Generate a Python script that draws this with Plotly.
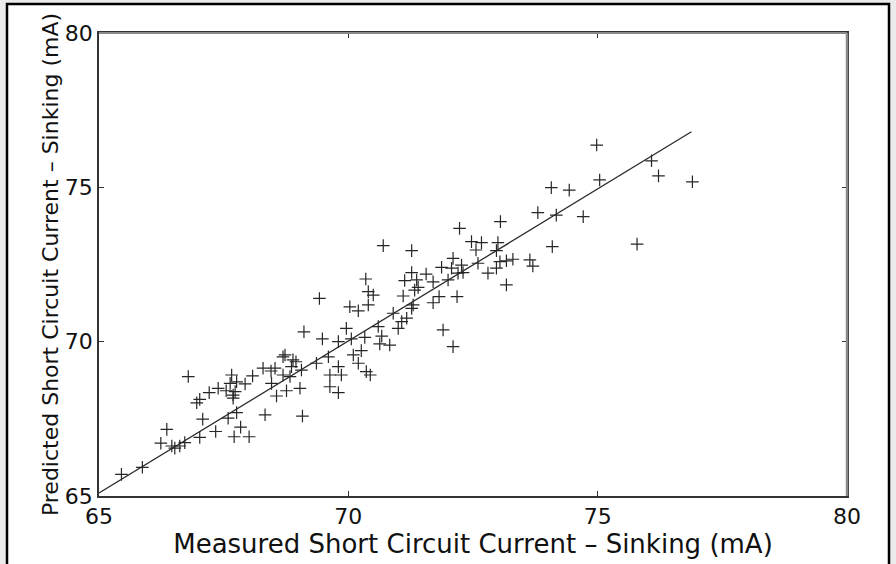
import plotly.graph_objects as go

measured = [
    74.98, 76.08, 75.04, 76.22, 76.90, 74.43, 74.71, 75.79, 73.80, 74.17,
    74.09, 73.05, 72.23, 72.47, 72.67, 73.00, 72.56, 72.97, 71.27, 73.04,
    73.17, 73.30, 73.64, 73.70, 72.97, 72.80, 73.17, 72.10, 71.87, 72.07,
    72.27, 72.30, 72.20, 72.60, 71.27, 71.56, 71.13, 71.37, 71.40, 71.70,
    72.00, 71.10, 71.33, 71.82, 71.70, 71.30, 71.27, 72.18, 71.17, 71.07,
    71.90, 72.10, 74.07, 70.70,
    70.35, 70.40, 70.50, 69.42, 70.40, 70.03, 70.20, 70.90, 71.00, 70.60,
    69.96, 69.11, 69.48, 69.80, 70.06, 70.33, 70.67, 70.63, 70.83, 70.26,
    70.10, 70.20, 70.36, 70.44, 69.60, 69.36, 69.80, 69.63, 69.86, 69.63,
    69.80, 69.06, 68.89, 68.69, 68.86, 68.53, 68.29, 68.69, 68.83, 68.46,
    68.08, 69.03, 68.76, 68.56, 68.33, 69.08,
    65.45, 65.87, 66.24, 66.36, 66.46, 66.52, 66.62, 66.72, 67.02, 67.08,
    67.34, 67.71, 68.01, 67.84, 67.59, 67.76, 66.96, 67.02, 67.21, 67.39,
    67.55, 67.69, 67.73, 67.69, 67.63, 67.76, 67.93, 67.66, 66.79,
    68.73, 68.95, 68.45,
]
predicted = [
    76.37, 75.86, 75.24, 75.37, 75.18, 74.91, 74.05, 73.16, 74.18, 74.10,
    73.08, 73.89, 73.67, 73.24, 73.21, 73.21, 72.97, 72.95, 72.95, 72.59,
    72.62, 72.67, 72.65, 72.45, 72.38, 72.22, 71.84, 72.70, 72.41, 72.38,
    72.48, 72.24, 72.22, 72.54, 72.24, 72.19, 71.98, 72.00, 71.76, 71.94,
    72.00, 71.48, 71.67, 71.46, 71.26, 71.19, 71.08, 71.46, 70.76, 70.65,
    70.38, 69.84, 74.99, 73.11,
    72.03, 71.62, 71.51, 71.40, 71.19, 71.13, 71.00, 70.92, 70.43, 70.49,
    70.43, 70.32, 70.09, 70.00, 70.09, 70.14, 70.18, 69.93, 69.89, 69.71,
    69.57, 69.30, 69.03, 68.92, 69.51, 69.30, 69.19, 68.92, 68.92, 68.54,
    68.35, 69.08, 69.41, 69.51, 69.19, 69.14, 69.14, 68.92, 68.87, 68.65,
    68.89, 68.49, 68.41, 68.24, 67.63, 67.59,
    65.70, 65.93, 66.71, 67.16, 66.62, 66.55, 66.62, 66.73, 66.90, 67.49,
    67.09, 66.92, 66.92, 67.23, 67.52, 67.70, 68.02, 68.13, 68.35, 68.49,
    68.41, 68.27, 68.38, 68.17, 68.65, 68.70, 68.63, 68.92, 68.87,
    69.57, 69.35, 69.05,
]
fit_x = [65.0, 76.88]
fit_y = [65.1, 76.80]

tick_vals = [65, 70, 75, 80]
tick_text = ["65", "70", "75", "80"]

FONT = "DejaVu Sans"

fig = go.Figure()
fig.add_trace(go.Scatter(
    x=fit_x, y=fit_y, mode="lines",
    line=dict(color="#2a2a2a", width=1.3), hoverinfo="skip", showlegend=False))
fig.add_trace(go.Scatter(
    x=measured, y=predicted, mode="markers",
    marker=dict(symbol="cross-thin", size=9, line=dict(color="#262626", width=1.2)),
    showlegend=False))

L, R, T, B = 99, 49, 33, 68
W, H = 896, 564
pw, ph = W - L - R, H - T - B

def px(xp):
    return (xp - L) / pw

def py(yp):
    return (H - B - yp) / ph

fig.update_layout(
    width=W, height=H,
    margin=dict(l=L, r=R, t=T, b=B, autoexpand=False),
    paper_bgcolor="#ebebeb",
    plot_bgcolor="white",
    font=dict(family=FONT, color="#111"),
    shapes=[
        dict(type="rect", xref="paper", yref="paper", layer="below",
             x0=px(7), x1=px(889), y0=py(575), y1=py(4),
             fillcolor="white", line=dict(color="black", width=2.5)),
        dict(type="line", xref="paper", yref="paper", layer="above",
             x0=0, x1=1, y0=1, y1=1, line=dict(color="#8a8a8a", width=2)),
        dict(type="line", xref="paper", yref="paper", layer="above",
             x0=1, x1=1, y0=0, y1=1, line=dict(color="#8a8a8a", width=2.5)),
    ],
    xaxis=dict(
        range=[65, 80], tickvals=tick_vals, ticktext=tick_text,
        showgrid=False, zeroline=False, showline=True, linecolor="#333",
        linewidth=1.5, mirror="ticks", ticks="inside", ticklen=5, tickcolor="#333",
        tickfont=dict(size=22, family=FONT),
        title=dict(text="Measured Short Circuit Current – Sinking (mA)",
                   font=dict(size=26, family=FONT), standoff=0),
    ),
    yaxis=dict(
        range=[65, 80], tickvals=tick_vals, ticktext=tick_text,
        showgrid=False, zeroline=False, showline=True, linecolor="#333",
        linewidth=1.5, mirror="ticks", ticks="inside", ticklen=5, tickcolor="#333",
        tickfont=dict(size=22, family=FONT),
        title=dict(text="Predicted Short Circuit Current – Sinking (mA)",
                   font=dict(size=22, family=FONT), standoff=0),
    ),
)

fig.write_html("out.html")
